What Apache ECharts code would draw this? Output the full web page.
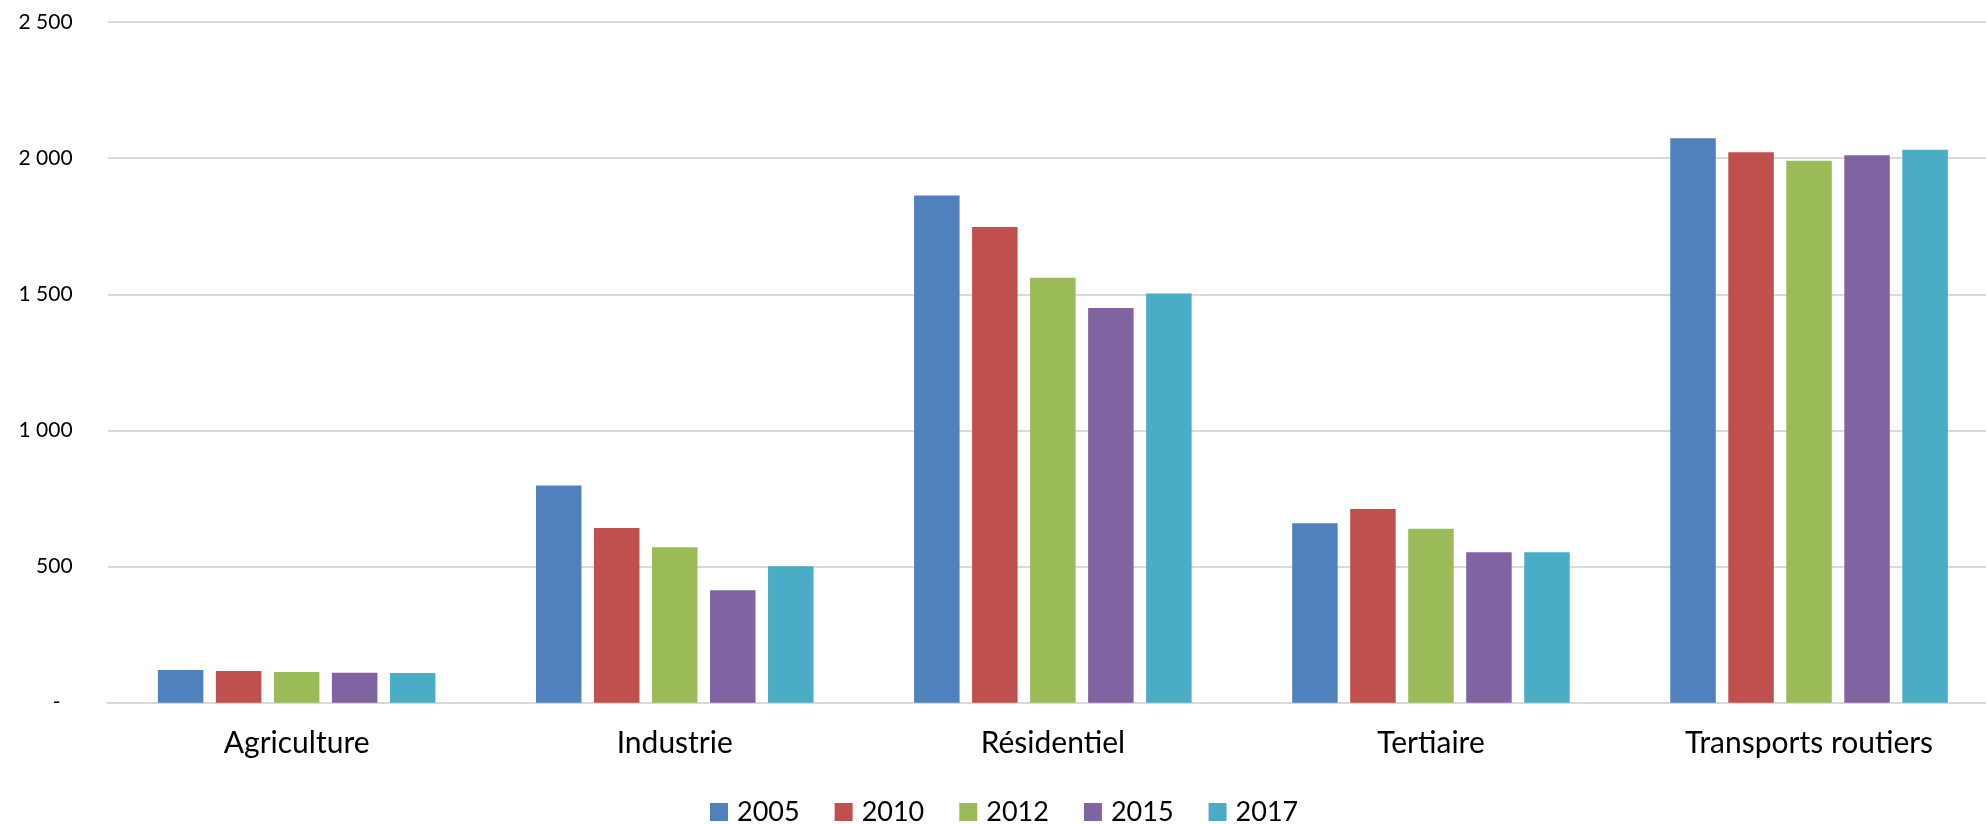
<!DOCTYPE html>
<html>
<head>
<meta charset="utf-8">
<title>Consommation par secteur</title>
<script src="https://cdn.jsdelivr.net/npm/echarts@6/dist/echarts.min.js"></script>
<style>
  html, body { margin: 0; padding: 0; background: #ffffff; }
  #chart { width: 1986px; height: 824px; }
</style>
</head>
<body>
<div id="chart"></div>
<script>
// Sectors on the category axis
const categories = ['Agriculture', 'Industrie', 'Résidentiel', 'Tertiaire', 'Transports routiers'];
// One series per year
const years = ['2005', '2010', '2012', '2015', '2017'];
const values2005 = [120, 798, 1863, 659, 2073];
const values2010 = [116, 642, 1747, 711, 2022];
const values2012 = [113, 571, 1561, 639, 1990];
const values2015 = [110, 413, 1450, 553, 2011];
const values2017 = [109, 501, 1503, 553, 2031];
// Value axis ticks
const yMin = 0;
const yMax = 2500;
const yStep = 500;

const seriesValues = [values2005, values2010, values2012, values2015, values2017];
const colors = ['#4F81BD', '#C0504D', '#9BBB59', '#8064A2', '#4BACC6'];

function formatTick(v) {
  if (v === 0) return '{z|-}';
  return String(v).replace(/\B(?=(\d{3})+(?!\d))/g, ' ');
}

const chart = echarts.init(document.getElementById('chart'), null, { renderer: 'canvas' });

chart.setOption({
  animation: false,
  backgroundColor: '#ffffff',
  color: colors,
  grid: {
    left: 107.6,
    top: 22,
    width: 1890.5,
    height: 680.7,
    containLabel: false,
    outerBoundsMode: 'none'
  },
  legend: {
    data: years,
    left: 705,
    top: 793,
    itemWidth: 18,
    itemHeight: 18,
    itemGap: 35,
    icon: 'rect',
    textStyle: {
      fontFamily: 'Lato',
      fontSize: 27,
      lineHeight: 28,
      color: '#000000',
      padding: [0, 0, 0, 4]
    }
  },
  xAxis: {
    type: 'category',
    data: categories,
    axisLine: { show: true, lineStyle: { color: '#d9d9d9', width: 2 } },
    axisTick: { show: false },
    axisLabel: {
      margin: 26,
      interval: 0,
      fontFamily: 'Lato',
      fontSize: 30,
      color: '#000000'
    }
  },
  yAxis: {
    type: 'value',
    min: yMin,
    max: yMax,
    interval: yStep,
    axisLine: { show: false },
    axisTick: { show: false },
    splitLine: { show: true, lineStyle: { color: '#d9d9d9', width: 2 } },
    axisLabel: {
      margin: 35,
      fontFamily: 'Lato',
      fontSize: 21,
      color: '#000000',
      formatter: formatTick,
      rich: {
        z: { fontFamily: 'Lato', fontSize: 21, color: '#000000', padding: [0, 12, 0, 0] }
      }
    }
  },
  series: years.map((y, i) => ({
    name: y,
    type: 'bar',
    data: seriesValues[i],
    barWidth: 45.5,
    barGap: '27.5%',
    itemStyle: { color: colors[i] }
  }))
});
</script>
</body>
</html>
